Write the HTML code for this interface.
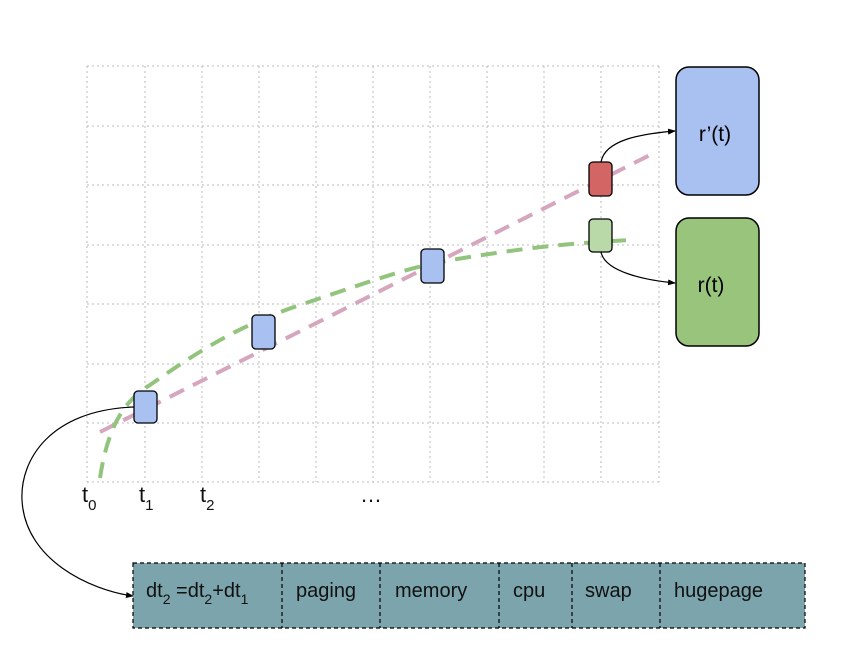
<!DOCTYPE html>
<html><head><meta charset="utf-8"><style>
html,body{margin:0;padding:0;background:#fff;}
svg{display:block;font-family:"Liberation Sans",sans-serif;}
</style></head><body>
<svg width="856" height="656" viewBox="0 0 856 656" xmlns="http://www.w3.org/2000/svg">
<defs>
<marker id="ah" markerWidth="8" markerHeight="8" refX="7" refY="4" orient="auto" markerUnits="userSpaceOnUse">
<path d="M0,1 L8,4 L0,7 z" fill="#000"/></marker>
</defs>
<g stroke="#bbb" stroke-width="1" stroke-dasharray="2,3" fill="none">
<path d="M87,66V482 M145,66V482 M202,66V482 M259,66V482 M316,66V482 M373,66V482 M430,66V482 M487,66V482 M544,66V482 M601,66V482 M659,66V482"/>
<path d="M87,66H659 M87,126H659 M87,185H659 M87,245H659 M87,304H659 M87,364H659 M87,423H659 M87,482H659"/>
</g>
<path d="M100,432 L650,155" stroke="#d5a6bd" stroke-width="4" stroke-dasharray="16,10" fill="none"/>
<path d="M100,478 C108,425 125,400 150,385 C200,350 240,325 300,305 C360,285 400,270 440,262 C520,248 570,243 632,240" stroke="#93c47d" stroke-width="4" stroke-dasharray="16,10" fill="none"/>
<rect x="676" y="67" width="83" height="128" rx="13" fill="#a9c1f0" stroke="#000" stroke-width="1.5"/>
<rect x="676" y="218" width="83" height="128" rx="13" fill="#98c47b" stroke="#000" stroke-width="1.5"/>
<text x="715" y="141" font-size="21" text-anchor="middle">r’(t)</text>
<text x="711" y="292" font-size="21" text-anchor="middle">r(t)</text>
<rect x="589" y="162" width="23" height="34" rx="4" fill="#d46565" stroke="#000" stroke-width="1.3"/>
<rect x="589" y="219" width="23" height="33" rx="4" fill="#b9d9a8" stroke="#000" stroke-width="1.3"/>
<rect x="134" y="391" width="23" height="32" rx="4" fill="#a9c1f0" stroke="#000" stroke-width="1.3"/>
<rect x="252" y="315" width="23" height="34" rx="4" fill="#a9c1f0" stroke="#000" stroke-width="1.3"/>
<rect x="421" y="249" width="23" height="34" rx="4" fill="#a9c1f0" stroke="#000" stroke-width="1.3"/>
<path d="M601,162 C605,140 640,134 675,131" stroke="#000" stroke-width="1.2" fill="none" marker-end="url(#ah)"/>
<path d="M601,252 C605,272 645,280 675,283" stroke="#000" stroke-width="1.2" fill="none" marker-end="url(#ah)"/>
<path d="M134,407 C50,410 20,460 22,500 C25,560 90,590 133,596" stroke="#000" stroke-width="1.2" fill="none" marker-end="url(#ah)"/>
<g font-size="22" fill="#111">
<text x="82" y="502">t<tspan font-size="15" dy="8">0</tspan></text>
<text x="139" y="502">t<tspan font-size="15" dy="8">1</tspan></text>
<text x="200" y="502">t<tspan font-size="15" dy="8">2</tspan></text>
<text x="360" y="502">…</text>
</g>
<rect x="133" y="563" width="672" height="65" fill="#7ca4ac" stroke="#000" stroke-width="1.2" stroke-dasharray="4,3"/>
<path d="M282,563V628 M380,563V628 M499,563V628 M572,563V628 M660,563V628" stroke="#000" stroke-width="1.2" stroke-dasharray="4,3"/>
<g font-size="20" fill="#111">
<text x="146" y="597">dt<tspan font-size="14" dy="7">2</tspan><tspan dy="-7"> =dt</tspan><tspan font-size="14" dy="7">2</tspan><tspan dy="-7">+dt</tspan><tspan font-size="14" dy="7">1</tspan></text>
<text x="296" y="597">paging</text>
<text x="395" y="597">memory</text>
<text x="513" y="597">cpu</text>
<text x="585" y="597">swap</text>
<text x="674" y="597">hugepage</text>
</g>
</svg>
</body></html>
